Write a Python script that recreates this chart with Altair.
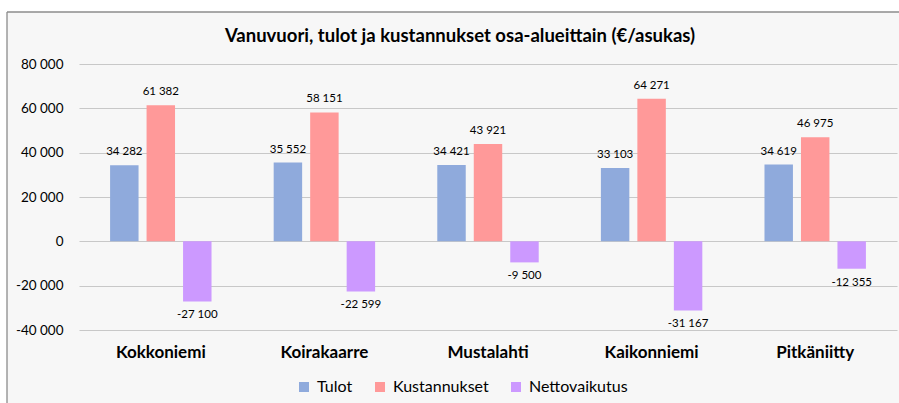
import altair as alt
import pandas as pd

areas = ["Kokkoniemi", "Koirakaarre", "Mustalahti", "Kaikonniemi", "Pitkäniitty"]
series = ["Tulot", "Kustannukset", "Nettovaikutus"]
tulot = [34282, 35552, 34421, 33103, 34619]
kustannukset = [61382, 58151, 43921, 64271, 46975]
netto = [-27100, -22599, -9500, -31167, -12355]
colors = ["#8FAADC", "#FF9999", "#CC99FF"]
y_ticks = [-40000, -20000, 0, 20000, 40000, 60000, 80000]

rows = []
for i, a in enumerate(areas):
    for s, vals in zip(series, [tulot, kustannukset, netto]):
        v = vals[i]
        rows.append({"area": a, "series": s, "value": v,
                     "label": f"{v:,}".replace(",", " ")})
df = pd.DataFrame(rows)

FONT = "Lato"
W, H = 818, 266
PL, PT = 79, 64

xenc = alt.X("area:N", sort=areas,
             scale=alt.Scale(paddingInner=0.38, paddingOuter=0.19),
             axis=alt.Axis(title=None, labelAngle=0, labelFontSize=17,
                           labelFontWeight="bold", labelColor="#000000",
                           labelFont=FONT, domain=False, ticks=False,
                           labelPadding=14, grid=False))
xoff = alt.XOffset("series:N", sort=series,
                   scale=alt.Scale(paddingInner=0.22, paddingOuter=0))
yenc = alt.Y("value:Q",
             scale=alt.Scale(domain=[-40000, 80000], nice=False),
             axis=alt.Axis(title=None, values=y_ticks, domain=False, ticks=False,
                           labelFontSize=13.5, labelFont=FONT, labelColor="#000000",
                           labelPadding=16, gridColor="#C8C8C8", gridWidth=1.2,
                           labelExpr="(datum.value < 0 ? '-' : '') + replace(format(abs(datum.value), ',d'), /,/g, ' ')"))

one = pd.DataFrame({"a": [0]})
# white page margin around the grey chart frame
strip_left = alt.Chart(one).mark_rect(fill="white").encode(
    x=alt.value(-PL), x2=alt.value(7 - PL), y=alt.value(-PT), y2=alt.value(H + 80))
strip_top = alt.Chart(one).mark_rect(fill="white").encode(
    x=alt.value(-PL), x2=alt.value(W + 10), y=alt.value(-PT), y2=alt.value(12 - PT))
border_left = alt.Chart(one).mark_rule(color="#8C8C8C", strokeWidth=1.3).encode(
    x=alt.value(7 - PL), y=alt.value(12 - PT), y2=alt.value(H + 80))
border_top = alt.Chart(one).mark_rule(color="#8C8C8C", strokeWidth=1.3).encode(
    x=alt.value(7 - PL), x2=alt.value(W + 10), y=alt.value(12 - PT))

base = alt.Chart(df)

bars = base.mark_bar().encode(
    x=xenc, xOffset=xoff, y=yenc,
    color=alt.Color("series:N", sort=series,
                    scale=alt.Scale(domain=series, range=colors),
                    legend=alt.Legend(title=None, orient="none", direction="horizontal",
                                      legendX=217, legendY=315,
                                      symbolType="square", symbolSize=100,
                                      symbolStrokeWidth=0, labelFontSize=16,
                                      labelFont=FONT, labelColor="#000000",
                                      labelOffset=5, columnPadding=19))
)

pos = base.transform_filter("datum.value >= 0").mark_text(
    baseline="bottom", dy=-8, fontSize=11.5, font=FONT, color="#000000"
).encode(x=alt.X("area:N", sort=areas), xOffset=alt.XOffset("series:N", sort=series),
         y="value:Q", text="label:N")
neg = base.transform_filter("datum.value < 0").mark_text(
    baseline="top", dy=8, fontSize=11.5, font=FONT, color="#000000"
).encode(x=alt.X("area:N", sort=areas), xOffset=alt.XOffset("series:N", sort=series),
         y="value:Q", text="label:N")

chart = alt.layer(bars, pos, neg, strip_left, strip_top, border_left, border_top).properties(
    width=W, height=H,
    title=alt.TitleParams("Vanuvuori, tulot ja kustannukset osa-alueittain (€/asukas)",
                          fontSize=18.5, fontWeight="bold", font=FONT, color="#000000",
                          anchor="middle", frame="group", dx=-28, offset=-60,
                          baseline="alphabetic"),
    autosize=alt.AutoSizeParams(type="none"),
    padding={"left": PL, "top": PT, "right": 2, "bottom": 73},
    background="#F7F7F7",
).configure_view(stroke=None)

chart.save("out.html", embed_options={"renderer": "svg", "actions": False})
